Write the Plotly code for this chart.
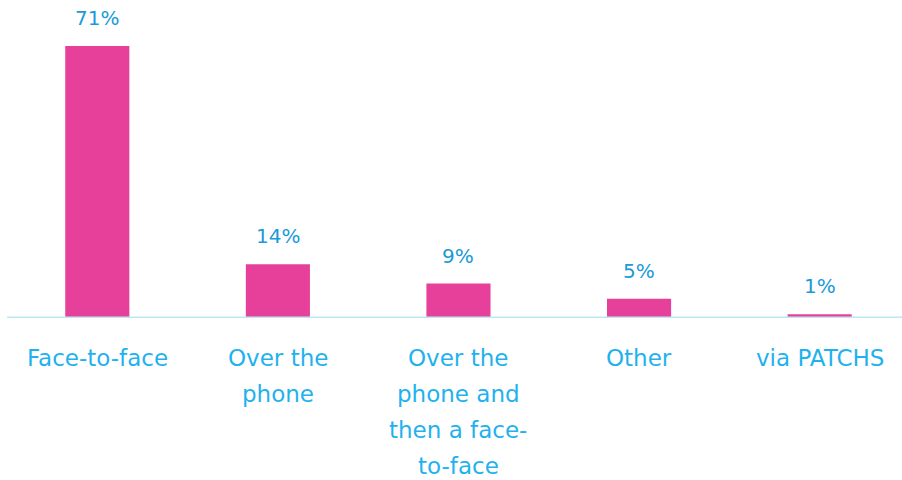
import plotly.graph_objects as go

# Survey: how the appointment took place
categories = ["Face-to-face", "Over the phone", "Over the phone and then a face-to-face", "Other", "via PATCHS"]
category_lines = [
    ["Face-to-face"],
    ["Over the", "phone"],
    ["Over the", "phone and", "then a face-", "to-face"],
    ["Other"],
    ["via PATCHS"],
]
values = [71, 14, 9, 5, 1]

BAR_COLOR = "#E6409A"
VALUE_COLOR = "#1A9AD8"
CAT_COLOR = "#1FB2EE"
FONT = "DejaVu Sans"

fig = go.Figure()
fig.add_trace(go.Bar(
    x=list(range(len(categories))),
    y=values,
    marker=dict(color=BAR_COLOR, line=dict(width=0)),
    width=0.355,
    hoverinfo="skip",
))

annotations = []
for i, v in enumerate(values):
    annotations.append(dict(
        x=i, y=v, xref="x", yref="y", text=f"{v}%", showarrow=False,
        yanchor="middle", yshift=28,
        font=dict(family=FONT, size=20, color=VALUE_COLOR),
    ))
for i, lines in enumerate(category_lines):
    for j, line in enumerate(lines):
        annotations.append(dict(
            x=i, y=0, xref="x", yref="y", text=line, showarrow=False,
            yanchor="middle", yshift=-40 - 36 * j,
            font=dict(family=FONT, size=23, color=CAT_COLOR),
        ))

fig.update_layout(
    width=902, height=480,
    margin=dict(l=7, r=0, t=0, b=162),
    plot_bgcolor="white", paper_bgcolor="white",
    showlegend=False,
    annotations=annotations,
    xaxis=dict(range=[-0.5, 4.456], showticklabels=False, showgrid=False,
               zeroline=False, showline=False, fixedrange=True),
    yaxis=dict(range=[0, 83], visible=False, showgrid=False, zeroline=False,
               fixedrange=True),
    shapes=[dict(type="line", xref="paper", yref="y", x0=0, x1=1, y0=0, y1=0,
                 line=dict(color="#BDE6F8", width=3), layer="above")],
)

fig.write_html("out.html")
